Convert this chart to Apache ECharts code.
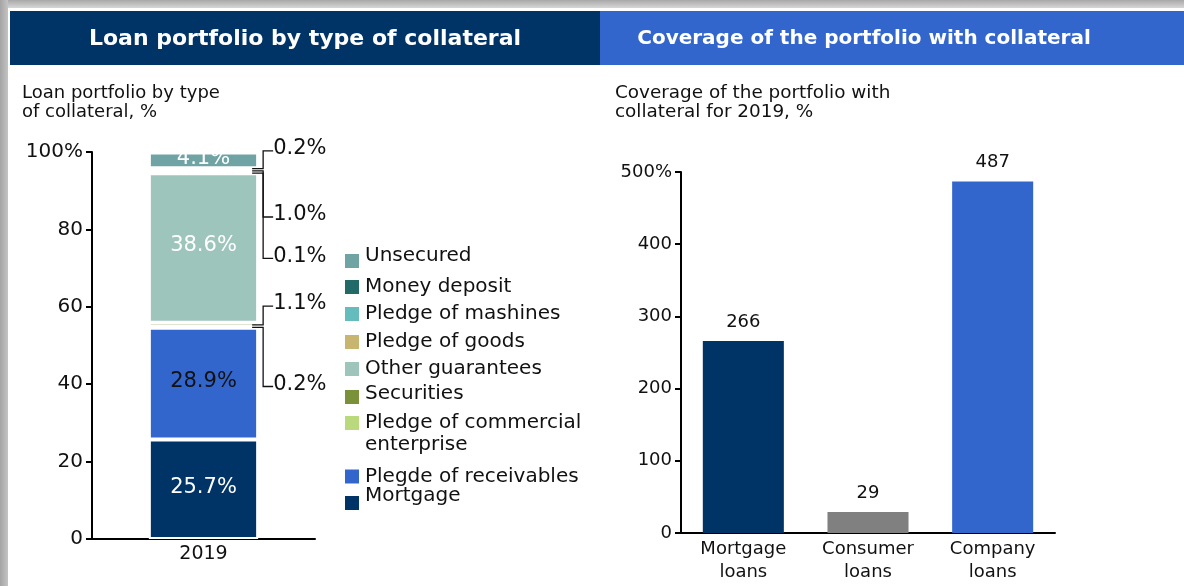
<!DOCTYPE html>
<html><head><meta charset="utf-8">
<script src="https://cdn.jsdelivr.net/npm/echarts@6/dist/echarts.min.js"></script>
<style>html,body{margin:0;padding:0;background:#fff}#c{width:1184px;height:586px}</style>
</head><body><div id="c"></div>
<script>
// ---------- data ----------
const years = ['2019'];
const collateralTypes = ['Mortgage', 'Plegde of receivables', 'Pledge of commercial enterprise', 'Securities',
  'Other guarantees', 'Pledge of goods', 'Pledge of mashines', 'Money deposit', 'Unsecured'];
const collateralShares = [25.7, 28.9, 0.2, 1.1, 38.6, 0.1, 1.0, 0.2, 4.1];
const loanTypes = ['Mortgage\nloans', 'Consumer\nloans', 'Company\nloans'];
const coverageValues = [266, 29, 487];
const leftTickTop = 100;
const rightTickTop = 500;

// ---------- styles / layout ----------
const FONT = 'DejaVu Sans';
const TXT = '#111';
const segColors = ['#003366', '#3366cc', '#b9d97c', '#7a913a', '#9ec5bc', '#c8b570', '#65bcbc', '#226a67', '#6fa3a4'];
const segLabelColors = ['#fff', '#111', '#fff', '#fff', '#fff', '#fff', '#fff', '#fff', '#fff'];
const coverageColors = ['#003366', '#808080', '#3366cc'];
const BAR_FRAC = 0.49;
// leader labels for the thin segments: segment index -> y level (axis units) of its label
const leaderSeg = [7, 6, 5, 3, 2];
const leaderLevel = [100.3, 83.2, 72.5, 60.2, 39.4];
// legend layout (top-to-bottom order), icon centre y, upward text shift
const legendOrder = [8, 7, 6, 5, 4, 3, 2, 1, 0];
const legendCenter = [260.5, 287, 314, 342, 369, 396, 423, 476.5, 503];
const legendShift = [5, 0, 0, 0, 0, 3, 0, 0, 7];
const legendCorr = [4.5, 0, 0, 0, 0, 4, 0, 0, 3];

// stacked segment centres (from the data)
const cum = [];
collateralShares.reduce((a, v, i) => { cum[i] = a + v / 2; return a + v; }, 0);

const chart = echarts.init(document.getElementById('c'));

const barSeries = collateralTypes.map((name, i) => ({
  name, type: 'bar', stack: 'total', xAxisIndex: 0, yAxisIndex: 0,
  barWidth: (BAR_FRAC * 100) + '%',
  data: [collateralShares[i]],
  itemStyle: { color: segColors[i], borderColor: '#fff', borderWidth: 2 },
  label: {
    show: collateralShares[i] >= 4, position: 'inside',
    formatter: p => p.value.toFixed(1) + '%',
    color: segLabelColors[i], fontSize: 21, fontFamily: FONT, offset: [0, -2]
  },
  emphasis: { disabled: true }, silent: true
}));

const leaderSeries = {
  type: 'custom', xAxisIndex: 0, yAxisIndex: 0, silent: true, z: 10, clip: false,
  data: leaderSeg.map((s, k) => [0, cum[s], leaderLevel[k]]),
  renderItem(params, api) {
    const s = leaderSeg[params.dataIndex];
    const seg = api.coord([api.value(0), api.value(1)]);
    const lab = api.coord([api.value(0), api.value(2)]);
    const band = api.size([1, 0])[0];
    const right = seg[0] + band * BAR_FRAC / 2;
    const vx = right + 5;
    return {
      type: 'group', children: [
        { type: 'polyline', shape: { points: [[right - 6, seg[1]], [vx, seg[1]], [vx, lab[1]], [vx + 10, lab[1]]] },
          style: { stroke: '#111', lineWidth: 1.3, fill: null } },
        { type: 'text', x: vx + 10, y: lab[1] - 2,
          style: { text: collateralShares[s].toFixed(1) + '%', font: '21px ' + FONT, fill: TXT, verticalAlign: 'middle', align: 'left' } }
      ]
    };
  }
};

const legends = legendOrder.map((si, k) => {
  const name = collateralTypes[si];
  const twoLine = name === 'Pledge of commercial enterprise';
  const c = legendCenter[k], s = legendShift[k];
  let top, lh, fmt;
  if (twoLine) { lh = 22; top = c - 33; fmt = () => '\nPledge of commercial\nenterprise'; }
  else if (s > 0) { lh = 2 * s; top = Math.min(c - 8, c - 2 * s) - legendCorr[k]; fmt = n => n + '\n'; }
  else { lh = 22; top = c - 11; fmt = n => n; }
  return {
    data: [name], orient: 'vertical', left: 343, top,
    padding: 0, itemWidth: 16, itemHeight: 16, icon: 'rect', selectedMode: false,
    formatter: fmt,
    textStyle: { fontSize: 20, fontFamily: FONT, color: TXT, lineHeight: lh }
  };
});

const axisLineStyle = { show: true, lineStyle: { color: '#000', width: 2 } };

chart.setOption({
  animation: false,
  textStyle: { fontFamily: FONT },
  graphic: [
    { type: 'rect', shape: { x: 0, y: 0, width: 1184, height: 8 }, silent: true,
      style: { fill: new echarts.graphic.LinearGradient(0, 0, 0, 1, [{ offset: 0, color: '#a8a8a8' }, { offset: 1, color: '#d6d6d6' }]) } },
    { type: 'rect', shape: { x: 0, y: 0, width: 8, height: 586 }, silent: true,
      style: { fill: new echarts.graphic.LinearGradient(0, 0, 1, 0, [{ offset: 0, color: '#a4a4a4' }, { offset: 1, color: '#c4c4c4' }]) } },
    { type: 'rect', shape: { x: 10, y: 11, width: 590, height: 54 }, style: { fill: '#003366' }, silent: true },
    { type: 'rect', shape: { x: 600, y: 11, width: 584, height: 54 }, style: { fill: '#3366cc' }, silent: true },
    { type: 'text', x: 305, y: 39, silent: true,
      style: { text: 'Loan portfolio by type of collateral', font: 'bold 22px ' + FONT, fill: '#fff', align: 'center', verticalAlign: 'middle' } },
    { type: 'text', x: 864, y: 39, silent: true,
      style: { text: 'Coverage of the portfolio with collateral', font: 'bold 20px ' + FONT, fill: '#fff', align: 'center', verticalAlign: 'middle' } }
  ],
  title: [
    { text: 'Loan portfolio by type\nof collateral, %', left: 22, top: 84, padding: 0,
      textStyle: { fontSize: 18, fontWeight: 'normal', fontFamily: FONT, color: TXT, lineHeight: 19 } },
    { text: 'Coverage of the portfolio with\ncollateral for 2019, %', left: 615, top: 84, padding: 0,
      textStyle: { fontSize: 18.4, fontWeight: 'normal', fontFamily: FONT, color: TXT, lineHeight: 19 } }
  ],
  legend: legends,
  grid: [
    { left: 92, right: 1184 - 315, top: 152, bottom: 586 - 539, containLabel: false },
    { left: 681, right: 1184 - 1055, top: 172, bottom: 586 - 533, containLabel: false }
  ],
  xAxis: [
    { type: 'category', gridIndex: 0, data: years, axisLine: axisLineStyle, axisTick: { show: false },
      axisLabel: { fontSize: 19, color: TXT, margin: 6, fontFamily: FONT } },
    { type: 'category', gridIndex: 1, data: loanTypes, axisLine: axisLineStyle, axisTick: { show: false },
      axisLabel: { fontSize: 18, color: TXT, margin: 5, lineHeight: 23, fontFamily: FONT } }
  ],
  yAxis: [
    { type: 'value', gridIndex: 0, min: 0, max: leftTickTop, interval: 20, axisLine: axisLineStyle,
      axisTick: { show: true, length: 6, lineStyle: { color: '#000', width: 2 } }, splitLine: { show: false },
      axisLabel: { fontSize: 20, color: TXT, margin: 9, fontFamily: FONT, formatter: v => v === leftTickTop ? v + '%' : v } },
    { type: 'value', gridIndex: 1, min: 0, max: rightTickTop, interval: 100, axisLine: axisLineStyle,
      axisTick: { show: true, length: 6, lineStyle: { color: '#000', width: 2 } }, splitLine: { show: false },
      axisLabel: { fontSize: 18, color: TXT, margin: 9, fontFamily: FONT, formatter: v => v === rightTickTop ? v + '%' : v } }
  ],
  series: [
    ...barSeries,
    leaderSeries,
    { type: 'bar', xAxisIndex: 1, yAxisIndex: 1, barWidth: '65%', silent: true,
      data: coverageValues.map((v, i) => ({ value: v, itemStyle: { color: coverageColors[i] } })),
      label: { show: true, position: 'top', distance: 10, fontSize: 18, color: TXT, fontFamily: FONT } }
  ]
});
</script></body></html>
